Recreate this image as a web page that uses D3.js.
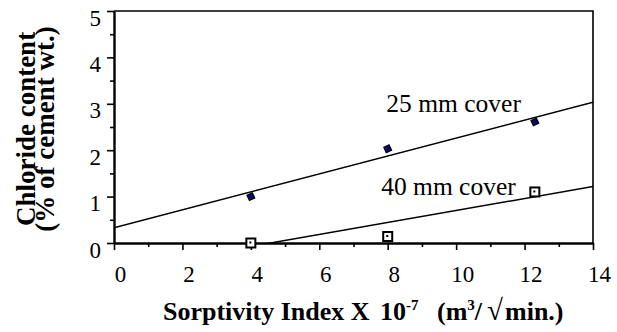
<!DOCTYPE html>
<html>
<head>
<meta charset="utf-8">
<script src="https://cdn.jsdelivr.net/npm/d3@7"></script>
<style>
  html, body { margin: 0; padding: 0; background: #fff; }
  svg { display: block; }
  svg text { font-family: "Liberation Serif", "Times New Roman", serif; fill: #000; }
</style>
</head>
<body>
<svg id="chart" width="617" height="332"></svg>
<script>
// Sorptivity index (x 10^-7 m3/sqrt(min)) versus chloride content (% of cement wt.)
const sorptivity25 = [4.0, 8.0, 12.3];
const chloride25   = [1.0, 2.03, 2.61];
const sorptivity40 = [4.0, 8.0, 12.3];
const chloride40   = [0.0, 0.14, 1.10];

// straight-line trends: [intercept, slope]
const trend25 = [0.33, 0.193];
const trend40 = [-0.59, 0.129];

const xTicks = [0, 2, 4, 6, 8, 10, 12, 14];
const yTicks = [0, 1, 2, 3, 4, 5];

const W = 617, H = 332;
const m = { left: 114, top: 11, right: 24, bottom: 89 };
const iw = W - m.left - m.right, ih = H - m.top - m.bottom;

const svg = d3.select("#chart");
const g = svg.append("g").attr("transform", `translate(${m.left},${m.top})`);

const x = d3.scaleLinear().domain([0, 14]).range([0, iw]);
const y = d3.scaleLinear().domain([0, 5]).range([ih, 0]);

// frame (top and right)
g.append("path")
  .attr("d", `M0,0H${iw}V${ih}`)
  .attr("fill", "none").attr("stroke", "#000").attr("stroke-width", 1.6);

// minor ticks
const xMinor = d3.range(1, 14, 2);
const yMinor = d3.range(0.5, 5, 1);
g.append("g").attr("transform", `translate(0,${ih})`)
  .call(d3.axisBottom(x).tickValues(xMinor).tickSize(4).tickFormat(""))
  .call(a => a.select(".domain").remove())
  .selectAll("line").attr("stroke-width", 1.6);
g.append("g")
  .call(d3.axisLeft(y).tickValues(yMinor).tickSize(4).tickFormat(""))
  .call(a => a.select(".domain").remove())
  .selectAll("line").attr("stroke-width", 1.6);

// major axes
const xAxis = g.append("g").attr("transform", `translate(0,${ih})`)
  .call(d3.axisBottom(x).tickValues(xTicks).tickSize(7).tickSizeOuter(0).tickFormat(d3.format("d")));
const yAxis = g.append("g")
  .call(d3.axisLeft(y).tickValues(yTicks).tickSize(7).tickSizeOuter(0).tickFormat(d3.format("d")));

[xAxis, yAxis].forEach(a => {
  a.attr("font-family", null).attr("font-size", null);
  a.select(".domain").attr("stroke-width", 2.4);
  a.selectAll(".tick line").attr("stroke-width", 1.6);
  a.selectAll(".tick text").attr("font-size", 23).attr("fill", "#000");
});
xAxis.selectAll(".tick text").attr("dy", null).attr("y", 39).attr("dx", 6);
yAxis.selectAll(".tick text").attr("dy", null).attr("x", -13).attr("y", 14);

// trend lines, clipped to the plot
svg.append("defs").append("clipPath").attr("id", "plotClip")
  .append("rect").attr("width", iw).attr("height", ih);
const lines = g.append("g").attr("clip-path", "url(#plotClip)");
[trend25, trend40].forEach(t => {
  const xs = x.domain();
  lines.append("line")
    .attr("x1", x(xs[0])).attr("y1", y(t[0] + t[1] * xs[0]))
    .attr("x2", x(xs[1])).attr("y2", y(t[0] + t[1] * xs[1]))
    .attr("stroke", "#000").attr("stroke-width", 1.5);
});

// 25 mm cover: filled diamonds
const diamond = d3.symbol().type(d3.symbolDiamond2).size(44);
g.selectAll(".p25").data(d3.zip(sorptivity25, chloride25)).join("path")
  .attr("class", "p25")
  .attr("d", diamond)
  .attr("transform", d => `translate(${x(d[0])},${y(d[1])}) rotate(20)`)
  .attr("fill", "#0a0a6e").attr("stroke", "#000").attr("stroke-width", 1.2);

// 40 mm cover: open squares with centre dot
const sq = g.selectAll(".p40").data(d3.zip(sorptivity40, chloride40)).join("g")
  .attr("class", "p40")
  .attr("transform", d => `translate(${x(d[0])},${y(d[1])})`);
sq.append("rect").attr("x", -4.5).attr("y", -4.5).attr("width", 9).attr("height", 9)
  .attr("fill", "#fff").attr("stroke", "#000").attr("stroke-width", 2);
sq.append("rect").attr("x", -1.5).attr("y", -1.5).attr("width", 2).attr("height", 2)
  .attr("fill", "#000");

// series labels
g.append("text").attr("x", x(7.96)).attr("y", 101)
  .attr("font-size", 25.5).text("25 mm cover");
g.append("text").attr("x", x(7.81)).attr("y", 184)
  .attr("font-size", 25.5).text("40 mm cover");

// x-axis title
const xt = svg.append("text").attr("y", 320)
  .attr("font-size", 26).attr("font-weight", "bold");
xt.append("tspan").attr("x", 163).text("Sorptivity Index X");
xt.append("tspan").attr("x", 380).text("10");
xt.append("tspan").attr("dy", -10).attr("font-size", 15).text("-7");
xt.append("tspan").attr("x", 437).attr("dy", 10).text("(m");
xt.append("tspan").attr("dy", -10).attr("font-size", 15).text("3");
xt.append("tspan").attr("dy", 10).text("/");
xt.append("tspan").attr("x", 487).attr("font-size", 29).text("\u221A");
xt.append("tspan").attr("x", 505).text("min.)");

// y-axis title, two lines
const yt = svg.append("text")
  .attr("transform", `translate(0,129) rotate(-90)`)
  .attr("text-anchor", "middle")
  .attr("font-size", 27).attr("font-weight", "bold");
yt.append("tspan").attr("x", 0).attr("y", 35).text("Chloride content");
yt.append("tspan").attr("x", 0).attr("y", 54).text("(% of cement wt.)");
</script>
</body>
</html>
